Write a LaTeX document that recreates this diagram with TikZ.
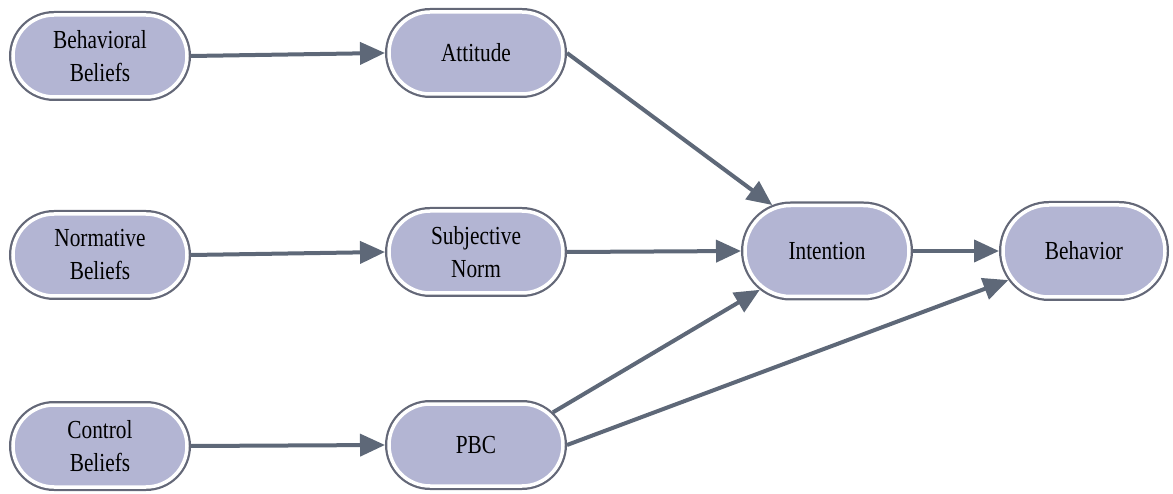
\documentclass[tikz,border=0pt]{standalone}
\usepackage{fontspec}
\newfontfamily\nodefont[FakeStretch=0.82]{Liberation Serif}
\usetikzlibrary{shapes.misc,arrows.meta}
\definecolor{pillfill}{RGB}{179,181,211}
\definecolor{pillrim}{RGB}{100,104,120}
\definecolor{arrowgray}{RGB}{94,104,120}
\tikzset{
  pill/.style={rounded rectangle, fill=pillfill, draw=white, line width=3.5pt,
    preaction={draw=pillrim, line width=8pt},
    minimum width=174pt, minimum height=82pt, inner sep=0pt, outer sep=4pt,
    align=center, font=\nodefont\fontsize{26pt}{33pt}\selectfont},
  link/.style={draw=arrowgray, line width=4pt,
    -{Triangle[length=25pt,width=22pt]}}
}
\begin{document}
\begin{tikzpicture}[x=1pt,y=-1pt]
\useasboundingbox (0,0) rectangle (1173,494);
\node[pill] (bb) at (100,56) {Behavioral\\Beliefs};
\node[pill] (nb) at (100,255) {Normative\\Beliefs};
\node[pill] (cb) at (100,446) {Control\\Beliefs};
\node[pill] (att) at (476,53) {Attitude};
\node[pill] (sn) at (476,252) {Subjective\\Norm};
\node[pill] (pbc) at (476,445) {PBC};
\node[pill, minimum width=164pt, minimum height=91pt] (int) at (827,251) {Intention};
\node[pill, minimum width=162pt, minimum height=92pt] (beh) at (1084,251) {Behavior};
\draw[link] (bb.east) -- (att.west);
\draw[link] (nb.east) -- (sn.west);
\draw[link] (cb.east) -- (pbc.west);
\draw[link] (att.east) -- (int.140);
\draw[link] (sn.east) -- (int.west);
\draw[link] (pbc.23) -- (int.210);
\draw[link] (pbc.east) -- (beh.201);
\draw[link] (int.east) -- (beh.west);
\end{tikzpicture}
\end{document}
